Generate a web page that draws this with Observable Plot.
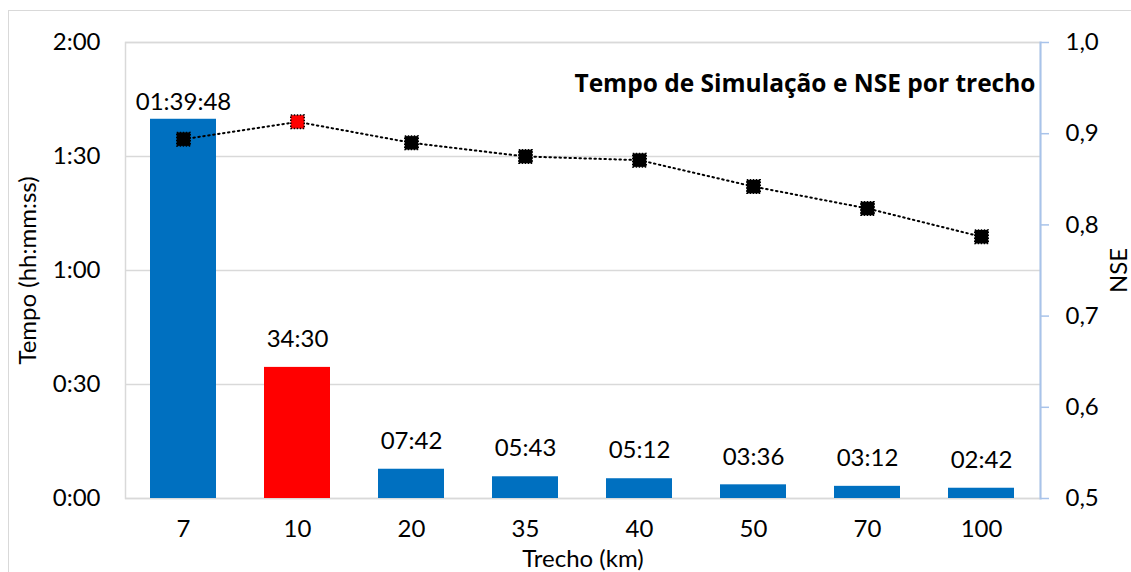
<!DOCTYPE html>
<html>
<head>
<meta charset="utf-8">
<script src="https://cdn.jsdelivr.net/npm/d3@7"></script>
<script src="https://cdn.jsdelivr.net/npm/@observablehq/plot@0.6"></script>
<style>
  html, body { margin: 0; padding: 0; background: #fff; }
  #wrap { position: relative; width: 1131px; height: 572px; overflow: hidden; }
  #border { position: absolute; left: 8px; top: 10px; width: 1200px; height: 700px; border-left: 1.5px solid #d9d9d9; border-top: 1.5px solid #d9d9d9; }
  #chart { position: absolute; left: 0; top: 0; }
  #chart svg { font-family: Lato, "Open Sans", sans-serif; }
</style>
</head>
<body>
<div id="wrap"><div id="border"></div><div id="chart"></div></div>
<script>
// Categories (Trecho, km)
const trechos = ["7", "10", "20", "35", "40", "50", "70", "100"];
// Simulation time labels and values in minutes
const tempoLabels = ["01:39:48", "34:30", "07:42", "05:43", "05:12", "03:36", "03:12", "02:42"];
const tempoMin = [99.8, 34.5, 7.7, 5.717, 5.2, 3.6, 3.2, 2.7];
// NSE values
const nse = [0.894, 0.913, 0.890, 0.875, 0.871, 0.842, 0.818, 0.787];
// Highlighted category
const highlight = "10";
// Axis ticks
const leftTicks = [0, 30, 60, 90, 120];
const leftTickLabels = ["0:00", "0:30", "1:00", "1:30", "2:00"];
const nseTicks = [0.5, 0.6, 0.7, 0.8, 0.9, 1.0];

const yMax = 120;
const nseToY = v => (v - 0.5) / 0.5 * yMax;

const data = trechos.map((t, i) => ({
  trecho: t, tempo: tempoMin[i], label: tempoLabels[i], nse: nse[i], nseY: nseToY(nse[i])
}));

const chart = Plot.plot({
  width: 1131,
  height: 572,
  marginLeft: 125,
  marginRight: 91,
  marginTop: 42,
  marginBottom: 74,
  style: { fontSize: "24px", background: "transparent" },
  x: { domain: trechos, paddingInner: 0.42, paddingOuter: 0.21, align: 0.5 },
  y: { domain: [0, yMax] },
  marks: [
    Plot.gridY(leftTicks, { stroke: "#d9d9d9", strokeOpacity: 1, strokeWidth: 1.5 }),
    Plot.frame({ stroke: "#d9d9d9", strokeWidth: 1.5 }),
    Plot.barY(data, {
      x: "trecho", y: "tempo",
      fill: d => d.trecho === highlight ? "#ff0000" : "#0070c0"
    }),
    Plot.text(data.slice(0, 1), { x: "trecho", y: "tempo", text: "label", dy: -17, fontSize: 24, fill: "#000" }),
    Plot.text(data.slice(1), { x: "trecho", y: "tempo", text: "label", dy: -28, fontSize: 24, fill: "#000" }),
    Plot.line(data, {
      x: "trecho", y: "nseY", stroke: "#000", strokeWidth: 2,
      strokeDasharray: "1.5,3.5", strokeLinecap: "round"
    }),
    Plot.dot(data, {
      x: "trecho", y: "nseY", symbol: "square", r: 7.6,
      fill: d => d.trecho === highlight ? "#ff0000" : "#000",
      stroke: "#000", strokeWidth: 1.5, strokeDasharray: "1.5,1.5"
    }),
    Plot.axisY(leftTicks, {
      anchor: "left", tickSize: 0, tickPadding: 25,
      tickFormat: (d, i) => leftTickLabels[leftTicks.indexOf(d)],
      fontSize: 24,
      label: "Tempo (hh:mm:ss)", labelAnchor: "center", labelArrow: "none", labelOffset: 107
    }),
    Plot.axisY(nseTicks.map(nseToY), {
      anchor: "right", tickSize: 8, tickPadding: 17, stroke: "#a8c3ea", strokeWidth: 1.5,
      tickFormat: d => (d / yMax * 0.5 + 0.5).toFixed(1).replace(".", ","),
      fontSize: 24,
      label: "NSE", labelAnchor: "center", labelArrow: "none", labelOffset: 86
    }),
    Plot.frame({ anchor: "right", stroke: "#a8c3ea", strokeWidth: 2 }),
    Plot.axisX({
      tickSize: 0, tickPadding: 21, fontSize: 24,
      label: "Trecho (km)", labelAnchor: "center", labelArrow: "none", labelOffset: 68
    }),
    Plot.text(["Tempo de Simulação e NSE por trecho"], {
      frameAnchor: "top-right", dx: -5, dy: 32, fontWeight: "bold", fontSize: 24.5,
      fontFamily: "'Open Sans', sans-serif", fill: "#000", textAnchor: "end"
    })
  ]
});
document.getElementById("chart").appendChild(chart);
</script>
</body>
</html>
